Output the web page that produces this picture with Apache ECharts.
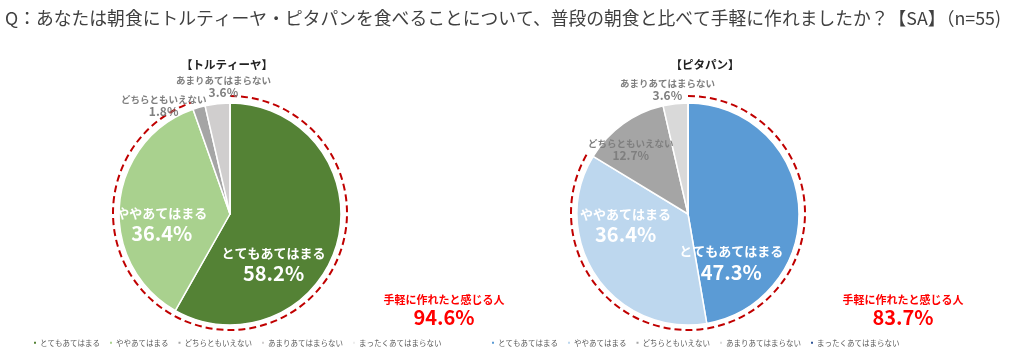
<!DOCTYPE html>
<html>
<head>
<meta charset="utf-8">
<script src="https://cdn.jsdelivr.net/npm/echarts@6/dist/echarts.min.js"></script>
<style>
  html, body { margin: 0; padding: 0; background: #fff; }
  #chart { width: 1010px; height: 354px; }
</style>
</head>
<body>
<div id="chart"></div>
<script>
var myChart = echarts.init(document.getElementById('chart'));

// 回答カテゴリ
var cats = ['とてもあてはまる', 'ややあてはまる', 'どちらともいえない', 'あまりあてはまらない', 'まったくあてはまらない'];
// 割合(%)
var tortilla = [58.2, 36.4, 1.8, 3.6, 0];
var pita = [47.3, 36.4, 12.7, 3.6, 0];

var tortillaColors = ['#548235', '#A9D18E', '#A5A5A5', '#D0CECE', '#EDEDED'];
var pitaColors = ['#5B9BD5', '#BDD7EE', '#A5A5A5', '#D9D9D9', '#2F5597'];

// ラベル位置の微調整 (dx, dy)
var labelShift = [
    [[-13, 36], [-10, 16], [-50, -52], [0, -69], [0, 0]],
    [[-15, 54], [-14, -21], [-23, -17], [-14, -66], [0, 0]]
];

// 「手軽に作れた」= とても + やや
var tortillaEasy = tortilla[0] + tortilla[1];
var pitaEasy = pita[0] + pita[1];

var font = '"Noto Sans CJK JP", sans-serif';

function makeData(values, colors) {
    return values.map(function (v, i) {
        var big = i < 2;
        return {
            name: cats[i],
            value: v,
            itemStyle: { color: colors[i] },
            label: {
                show: v > 0,
                formatter: big ? '{n|{b}}\n{p|{c}%}' : '{sn|{b}}\n{sp|{c}%}'
            }
        };
    });
}

var labelRich = {
    n: { color: '#fff', fontSize: 13, fontWeight: 'bold', fontFamily: font, lineHeight: 18 },
    p: { color: '#fff', fontSize: 20, fontWeight: 'bold', fontFamily: font, lineHeight: 23 },
    sn: { color: '#7F7F7F', fontSize: 9.5, fontWeight: 'bold', fontFamily: font, lineHeight: 11 },
    sp: { color: '#7F7F7F', fontSize: 12, fontWeight: 'bold', fontFamily: font, lineHeight: 13 }
};

function legendData(colors) {
    return cats.map(function (c, i) {
        return { name: c, itemStyle: { color: colors[i] } };
    });
}

function easyArc(cx, cy, share) {
    return {
        type: 'arc',
        shape: {
            cx: cx, cy: cy, r: 117,
            startAngle: -Math.PI / 2,
            endAngle: -Math.PI / 2 + Math.PI * 2 * share / 100,
            clockwise: true
        },
        style: { stroke: '#C00000', fill: null, lineWidth: 2, lineDash: [7, 4] },
        silent: true
    };
}

option = {
    animation: false,
    title: [{
        text: 'Q：あなたは朝食にトルティーヤ・ピタパンを食べることについて、普段の朝食と比べて手軽に作れましたか？【SA】（n=55)',
        left: 0,
        top: 4,
        textStyle: { color: '#404040', fontSize: 17.8, fontWeight: 'normal', fontFamily: font }
    }, {
        text: '【トルティーヤ】',
        left: 222,
        top: 54,
        textAlign: 'center',
        textStyle: { color: '#222', fontSize: 11.5, fontWeight: 'bold', fontFamily: font }
    }, {
        text: '【ピタパン】',
        left: 700,
        top: 54,
        textAlign: 'center',
        textStyle: { color: '#222', fontSize: 11.5, fontWeight: 'bold', fontFamily: font }
    }, {
        text: '手軽に作れたと感じる人',
        subtext: tortillaEasy.toFixed(1) + '%',
        left: 439,
        top: 289,
        textAlign: 'center',
        itemGap: 2,
        textStyle: { color: '#FF0000', fontSize: 11, fontWeight: 'bold', fontFamily: font },
        subtextStyle: { color: '#FF0000', fontSize: 20, fontWeight: 'bold', fontFamily: font }
    }, {
        text: '手軽に作れたと感じる人',
        subtext: pitaEasy.toFixed(1) + '%',
        left: 898,
        top: 289,
        textAlign: 'center',
        itemGap: 2,
        textStyle: { color: '#FF0000', fontSize: 11, fontWeight: 'bold', fontFamily: font },
        subtextStyle: { color: '#FF0000', fontSize: 20, fontWeight: 'bold', fontFamily: font }
    }],
    legend: [{
        data: legendData(tortillaColors),
        left: 27,
        top: 334,
        icon: 'rect',
        itemWidth: 4,
        itemHeight: 4,
        itemGap: 8,
        selectedMode: false,
        textStyle: { color: '#595959', fontSize: 7.5, fontFamily: font, padding: [0, 0, 0, -2] }
    }, {
        data: legendData(pitaColors),
        left: 485,
        top: 334,
        icon: 'rect',
        itemWidth: 4,
        itemHeight: 4,
        itemGap: 8,
        selectedMode: false,
        textStyle: { color: '#595959', fontSize: 7.5, fontFamily: font, padding: [0, 0, 0, -2] }
    }],
    graphic: [easyArc(230, 213, tortillaEasy), easyArc(688, 213, pitaEasy)],
    series: [{
        name: 'トルティーヤ',
        type: 'pie',
        center: [230, 214],
        radius: 111,
        startAngle: 90,
        clockwise: true,
        itemStyle: { borderColor: '#fff', borderWidth: 1.5 },
        label: { position: 'inside', rich: labelRich },
        labelLine: { show: false },
        labelLayout: function (params) {
            var s = labelShift[0][params.dataIndex];
            return { dx: s[0], dy: s[1] };
        },
        emphasis: { disabled: true },
        data: makeData(tortilla, tortillaColors)
    }, {
        name: 'ピタパン',
        type: 'pie',
        center: [688, 214],
        radius: 111,
        startAngle: 90,
        clockwise: true,
        itemStyle: { borderColor: '#fff', borderWidth: 1.5 },
        label: { position: 'inside', rich: labelRich },
        labelLine: { show: false },
        labelLayout: function (params) {
            var s = labelShift[1][params.dataIndex];
            return { dx: s[0], dy: s[1] };
        },
        emphasis: { disabled: true },
        data: makeData(pita, pitaColors)
    }]
};
myChart.setOption(option);
</script>
</body>
</html>
